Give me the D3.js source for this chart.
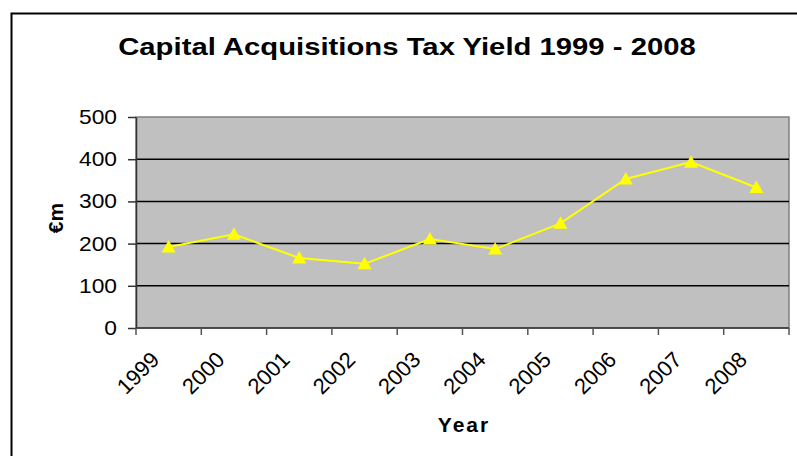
<!DOCTYPE html>
<html>
<head>
<meta charset="utf-8">
<script src="https://cdn.jsdelivr.net/npm/d3@7"></script>
<style>
  body { margin: 0; background: #fff; }
  text { font-family: "Liberation Sans", Arial, sans-serif; }
</style>
</head>
<body>
<div id="chart"></div>
<script>
const years = ["1999", "2000", "2001", "2002", "2003", "2004", "2005", "2006", "2007", "2008"];
const yieldM = [192, 222, 166, 152, 211, 187, 248, 353, 393, 333];
const yTicks = [0, 100, 200, 300, 400, 500];

const W = 797, H = 456;
const plot = { left: 136, right: 789, top: 117, bottom: 328 };

const svg = d3.select("#chart")
    .append("svg")
    .attr("width", W)
    .attr("height", H);

// outer chart frame (runs off right and bottom)
svg.append("rect")
    .attr("x", 11.5).attr("y", 13.5)
    .attr("width", W + 20).attr("height", H + 20)
    .attr("fill", "#fff")
    .attr("stroke", "#000")
    .attr("stroke-width", 2);

const x = d3.scaleBand().domain(years).range([plot.left, plot.right]);
const y = d3.scaleLinear().domain([0, 500]).range([plot.bottom, plot.top]);

// plot area
svg.append("rect")
    .attr("x", plot.left).attr("y", plot.top)
    .attr("width", plot.right - plot.left).attr("height", plot.bottom - plot.top)
    .attr("fill", "#c0c0c0")
    .attr("stroke", "#808080")
    .attr("stroke-width", 1.5);

// gridlines
svg.append("g")
    .selectAll("line")
    .data(yTicks.filter(d => d > 0 && d < 500))
    .join("line")
    .attr("x1", plot.left).attr("x2", plot.right)
    .attr("y1", d => y(d)).attr("y2", d => y(d))
    .attr("stroke", "#000")
    .attr("stroke-width", 1.5);

// y axis
const yAxis = svg.append("g")
    .attr("transform", `translate(${plot.left},0)`)
    .call(d3.axisLeft(y).tickValues(yTicks).tickSize(8).tickSizeOuter(0));
yAxis.select(".domain").attr("stroke", "#333").attr("stroke-width", 1.5);
yAxis.selectAll(".tick line").attr("stroke", "#333").attr("stroke-width", 1.5);
yAxis.selectAll(".tick text")
    .attr("x", 0)
    .attr("transform", "translate(-19,0) scale(1.14,1)")
    .attr("fill", "#000")
    .style("font-size", "20px");

// x axis, ticks on band edges
const xAxis = svg.append("g")
    .attr("transform", `translate(0,${plot.bottom})`);
xAxis.append("line")
    .attr("x1", plot.left).attr("x2", plot.right)
    .attr("stroke", "#333").attr("stroke-width", 1.5);
const edges = years.map(d => x(d)).concat([plot.right]);
xAxis.selectAll(".edge")
    .data(edges)
    .join("line")
    .attr("class", "edge")
    .attr("x1", d => d).attr("x2", d => d)
    .attr("y1", 0).attr("y2", 7)
    .attr("stroke", "#555").attr("stroke-width", 1.5);
xAxis.selectAll(".lbl")
    .data(years)
    .join("text")
    .attr("class", "lbl")
    .attr("text-anchor", "end")
    .attr("transform", d => `translate(${x(d) + x.bandwidth() / 2 - 8},33) rotate(-45)`)
    .style("font-size", "22px")
    .text(d => d);

// series
const cx = d => x(d) + x.bandwidth() / 2;
svg.append("path")
    .datum(yieldM)
    .attr("fill", "none")
    .attr("stroke", "#ffff00")
    .attr("stroke-width", 2)
    .attr("d", d3.line().x((d, i) => cx(years[i])).y(d => y(d)));

svg.append("g")
    .selectAll("path")
    .data(yieldM)
    .join("path")
    .attr("transform", (d, i) => `translate(${cx(years[i])},${y(d)})`)
    .attr("d", "M0,-7L7,5.5L-7,5.5Z")
    .attr("fill", "#ffff00");

// titles
svg.append("text")
    .attr("transform", "translate(407,55) scale(1.22,1)")
    .attr("text-anchor", "middle")
    .style("font-size", "24px")
    .style("font-weight", "bold")
    .text("Capital Acquisitions Tax Yield 1999 - 2008");

svg.append("text")
    .attr("x", 464).attr("y", 432)
    .attr("text-anchor", "middle")
    .style("font-size", "21px")
    .style("font-weight", "bold")
    .style("letter-spacing", "2px")
    .text("Year");

svg.append("text")
    .attr("transform", "translate(63,218) rotate(-90)")
    .attr("text-anchor", "middle")
    .style("font-size", "21px")
    .style("font-weight", "bold")
    .text("€m");
</script>
</body>
</html>
